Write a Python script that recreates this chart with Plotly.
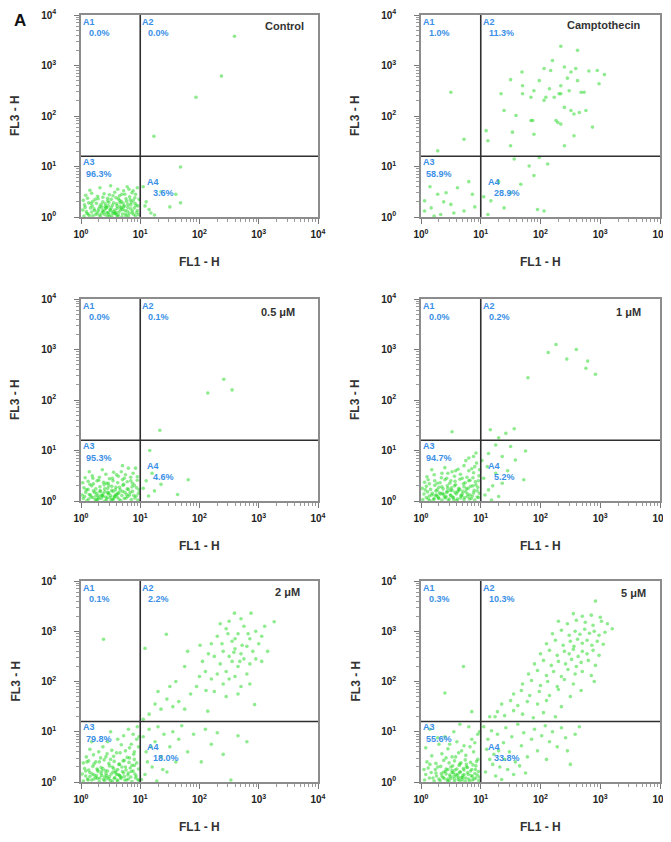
import numpy as np
import plotly.graph_objects as go

# ---------------- data ----------------
# every event is (log10 FL1-H, log10 FL3-H)
ctrl_events = [
    (0.05, 0.02), (0.12, 0.06), (0.20, 0.03), (0.27, 0.08), (0.33, 0.01), (0.40, 0.05), (0.46, 0.09), (0.52, 0.02),
    (0.58, 0.07), (0.63, 0.04), (0.69, 0.00), (0.75, 0.06), (0.80, 0.03), (0.86, 0.08), (0.92, 0.02), (0.97, 0.05),
    (0.03, 0.14), (0.09, 0.11), (0.16, 0.18), (0.23, 0.13), (0.30, 0.16), (0.36, 0.12), (0.43, 0.19), (0.49, 0.15),
    (0.55, 0.11), (0.61, 0.17), (0.67, 0.14), (0.72, 0.20), (0.78, 0.12), (0.84, 0.16), (0.90, 0.18), (0.95, 0.13),
    (0.06, 0.24), (0.13, 0.28), (0.19, 0.22), (0.26, 0.27), (0.34, 0.25), (0.41, 0.21), (0.47, 0.29), (0.53, 0.23),
    (0.60, 0.26), (0.66, 0.28), (0.73, 0.22), (0.79, 0.25), (0.85, 0.29), (0.93, 0.23),
    (0.04, 0.33), (0.11, 0.37), (0.20, 0.31), (0.29, 0.36), (0.37, 0.39), (0.45, 0.32), (0.51, 0.35), (0.59, 0.38),
    (0.68, 0.31), (0.76, 0.36), (0.83, 0.34), (0.91, 0.38),
    (0.08, 0.43), (0.18, 0.47), (0.28, 0.41), (0.39, 0.46), (0.48, 0.44), (0.57, 0.49), (0.65, 0.42), (0.74, 0.45),
    (0.86, 0.48), (0.15, 0.53), (0.32, 0.58), (0.50, 0.62), (0.62, 0.55), (0.78, 0.60), (0.88, 0.52),
    (0.31, 0.04), (0.38, 0.10), (0.44, 0.02), (0.50, 0.13), (0.56, 0.07), (0.62, 0.01), (0.70, 0.15), (0.35, 0.19),
    (0.47, 0.05), (0.59, 0.09), (0.66, 0.20), (0.42, 0.17),
    (0.14, 0.03), (0.18, 0.10), (0.22, 0.16), (0.25, 0.05), (0.29, 0.12), (0.32, 0.21), (0.35, 0.07), (0.39, 0.14),
    (0.41, 0.26), (0.44, 0.09), (0.46, 0.22), (0.48, 0.01), (0.51, 0.18), (0.53, 0.08), (0.55, 0.28), (0.57, 0.14),
    (0.60, 0.04), (0.61, 0.22), (0.64, 0.10), (0.65, 0.33), (0.68, 0.18), (0.70, 0.06), (0.71, 0.27), (0.74, 0.13),
    (0.76, 0.02), (0.77, 0.31), (0.79, 0.19), (0.81, 0.08), (0.82, 0.40), (0.84, 0.24), (0.87, 0.12), (0.88, 0.33),
    (0.89, 0.05), (0.91, 0.27), (0.94, 0.09), (0.96, 0.22), (0.98, 0.35), (0.24, 0.35), (0.37, 0.30), (0.54, 0.42),
    (0.69, 0.45), (0.72, 0.52), (0.92, 0.45), (0.95, 0.58), (0.10, 0.07), (0.07, 0.19), (0.17, 0.27), (0.45, 0.37),
    (0.63, 0.36), (0.81, 0.55),
    (1.23, 1.60), (1.94, 2.37), (2.37, 2.79), (2.59, 3.58), (1.68, 0.99), (1.68, 0.28), (1.50, 0.20), (1.24, 0.04),
    (1.10, 0.30), (1.15, 0.15), (1.35, 0.50), (1.05, 0.60), (1.60, 0.45), (1.18, 0.08), (1.08, 0.22),
]

campto_events = [
    (2.34, 3.38), (2.62, 3.30), (1.69, 2.87), (1.70, 2.60), (1.34, 2.44), (1.50, 2.72), (2.06, 2.94), (2.17, 2.90),
    (2.40, 2.97), (2.51, 2.87), (2.59, 2.94), (2.81, 2.89), (2.95, 2.90), (3.07, 2.82), (1.98, 2.70), (2.15, 2.54),
    (2.34, 2.60), (2.34, 2.44), (2.48, 2.50), (2.62, 2.70), (2.73, 2.47), (1.89, 2.50), (1.84, 2.37), (2.06, 2.31),
    (2.23, 2.37), (2.40, 2.17), (2.51, 2.11), (2.65, 2.07), (2.76, 2.11), (2.26, 1.91), (2.34, 1.84), (1.84, 1.91),
    (1.59, 2.01), (1.39, 2.11), (1.53, 1.68), (1.89, 1.64), (2.40, 1.41), (2.56, 1.61), (2.87, 1.78), (1.50, 1.41),
    (1.12, 1.51), (2.98, 2.64), (2.68, 2.47), (2.56, 2.04), (1.87, 1.91), (2.29, 1.87), (2.09, 2.37), (1.09, 1.71),
    (2.31, 2.44), (1.70, 2.44), (2.20, 3.10), (2.45, 2.75),
    (0.50, 2.47), (0.72, 1.54), (0.28, 1.31),
    (1.56, 1.15), (1.81, 1.01), (1.98, 1.18), (2.12, 1.05), (1.89, 0.82), (1.67, 0.65), (1.50, 0.48), (1.39, 0.18),
    (1.95, 0.15), (2.06, 0.12), (1.17, 0.32), (1.12, 0.05), (1.30, 0.70), (1.05, 0.40),
    (0.28, 0.45), (0.42, 0.48), (0.50, 0.25), (0.17, 0.18), (0.06, 0.12), (0.33, 0.05), (0.61, 0.58), (0.86, 0.45),
    (0.72, 0.12), (0.06, 0.32), (0.15, 0.60), (0.38, 0.30), (0.55, 0.08), (0.90, 0.20), (0.22, 0.02), (0.80, 0.70),
]

d05_events = [
    (0.04, 0.05), (0.10, 0.01), (0.17, 0.08), (0.24, 0.03), (0.30, 0.06), (0.37, 0.09), (0.43, 0.02), (0.49, 0.07),
    (0.55, 0.04), (0.61, 0.08), (0.67, 0.01), (0.73, 0.05), (0.79, 0.09), (0.85, 0.03), (0.91, 0.06), (0.96, 0.02),
    (0.02, 0.12), (0.08, 0.17), (0.14, 0.13), (0.21, 0.20), (0.27, 0.15), (0.34, 0.11), (0.40, 0.18), (0.46, 0.14),
    (0.52, 0.21), (0.58, 0.12), (0.64, 0.16), (0.70, 0.19), (0.77, 0.13), (0.83, 0.17), (0.89, 0.11), (0.97, 0.15),
    (0.05, 0.26), (0.12, 0.23), (0.18, 0.30), (0.25, 0.24), (0.32, 0.28), (0.39, 0.32), (0.45, 0.25), (0.52, 0.29),
    (0.58, 0.22), (0.65, 0.27), (0.71, 0.31), (0.78, 0.24), (0.86, 0.28), (0.94, 0.26),
    (0.03, 0.36), (0.12, 0.39), (0.21, 0.34), (0.30, 0.41), (0.38, 0.37), (0.46, 0.35), (0.54, 0.40), (0.62, 0.36),
    (0.70, 0.42), (0.78, 0.38), (0.87, 0.35), (0.95, 0.41),
    (0.07, 0.46), (0.19, 0.50), (0.31, 0.47), (0.42, 0.53), (0.53, 0.45), (0.63, 0.49), (0.75, 0.52), (0.84, 0.47),
    (0.14, 0.58), (0.36, 0.62), (0.55, 0.57), (0.70, 0.70), (0.80, 0.65),
    (0.28, 0.03), (0.36, 0.11), (0.44, 0.06), (0.51, 0.02), (0.60, 0.13), (0.33, 0.19), (0.47, 0.16), (0.56, 0.08),
    (0.25, 0.10), (0.40, 0.00),
    (0.13, 0.04), (0.16, 0.12), (0.20, 0.07), (0.23, 0.17), (0.26, 0.02), (0.29, 0.10), (0.32, 0.20), (0.34, 0.05),
    (0.37, 0.14), (0.40, 0.24), (0.42, 0.08), (0.45, 0.17), (0.47, 0.30), (0.50, 0.11), (0.53, 0.03), (0.54, 0.19),
    (0.57, 0.09), (0.59, 0.27), (0.62, 0.15), (0.64, 0.04), (0.66, 0.22), (0.69, 0.11), (0.72, 0.33), (0.74, 0.17),
    (0.76, 0.06), (0.80, 0.23), (0.82, 0.12), (0.84, 0.40), (0.87, 0.19), (0.90, 0.31), (0.93, 0.10), (0.95, 0.48),
    (0.98, 0.22), (0.09, 0.22), (0.15, 0.33), (0.27, 0.40), (0.48, 0.44), (0.60, 0.52), (0.68, 0.58), (0.88, 0.55),
    (0.06, 0.09), (0.20, 0.45), (0.43, 0.35), (0.73, 0.45), (0.92, 0.65),
    (2.41, 2.41), (2.55, 2.20), (2.14, 2.14), (1.33, 1.40), (1.16, 1.00), (1.81, 0.42), (1.63, 0.13), (1.24, 0.20),
    (1.35, 0.33), (1.10, 0.40), (1.14, 0.10), (1.05, 0.25), (1.20, 0.55),
]

d1_events = [
    (0.03, 0.03), (0.09, 0.07), (0.15, 0.01), (0.22, 0.05), (0.28, 0.09), (0.35, 0.02), (0.41, 0.06), (0.47, 0.04),
    (0.53, 0.08), (0.60, 0.01), (0.66, 0.06), (0.72, 0.03), (0.78, 0.09), (0.84, 0.05), (0.90, 0.02), (0.96, 0.07),
    (0.05, 0.14), (0.11, 0.18), (0.18, 0.12), (0.25, 0.20), (0.31, 0.16), (0.38, 0.13), (0.44, 0.19), (0.50, 0.11),
    (0.57, 0.17), (0.63, 0.21), (0.69, 0.14), (0.75, 0.18), (0.82, 0.12), (0.88, 0.16), (0.94, 0.20),
    (0.02, 0.25), (0.09, 0.29), (0.16, 0.23), (0.23, 0.31), (0.30, 0.27), (0.37, 0.24), (0.44, 0.30), (0.51, 0.26),
    (0.58, 0.32), (0.65, 0.23), (0.72, 0.28), (0.79, 0.25), (0.87, 0.30), (0.95, 0.27),
    (0.06, 0.37), (0.14, 0.34), (0.23, 0.40), (0.32, 0.36), (0.40, 0.42), (0.48, 0.35), (0.57, 0.39), (0.65, 0.43),
    (0.74, 0.36), (0.82, 0.41), (0.91, 0.38),
    (0.10, 0.48), (0.22, 0.52), (0.34, 0.46), (0.45, 0.55), (0.56, 0.49), (0.66, 0.53), (0.77, 0.47), (0.88, 0.56),
    (0.97, 0.50), (0.18, 0.62), (0.40, 0.66), (0.58, 0.60), (0.72, 0.70), (0.85, 0.64), (0.93, 0.75),
    (0.30, 0.05), (0.42, 0.09), (0.55, 0.03), (0.68, 0.10), (0.36, 0.15), (0.49, 0.21), (0.61, 0.18), (0.26, 0.12),
    (0.80, 0.85), (0.92, 0.95),
    (0.12, 0.04), (0.14, 0.10), (0.19, 0.15), (0.21, 0.03), (0.24, 0.11), (0.27, 0.22), (0.29, 0.06), (0.33, 0.14),
    (0.35, 0.28), (0.39, 0.08), (0.43, 0.17), (0.45, 0.25), (0.46, 0.01), (0.49, 0.12), (0.52, 0.21), (0.54, 0.07),
    (0.56, 0.30), (0.59, 0.14), (0.61, 0.04), (0.63, 0.25), (0.67, 0.11), (0.70, 0.19), (0.71, 0.34), (0.73, 0.07),
    (0.76, 0.24), (0.78, 0.14), (0.80, 0.40), (0.81, 0.04), (0.83, 0.29), (0.86, 0.10), (0.87, 0.46), (0.89, 0.21),
    (0.92, 0.32), (0.94, 0.08), (0.96, 0.40), (0.98, 0.15), (0.07, 0.22), (0.12, 0.42), (0.27, 0.35), (0.43, 0.45),
    (0.52, 0.58), (0.62, 0.63), (0.69, 0.45), (0.80, 0.60), (0.90, 0.68), (0.98, 0.62), (0.35, 0.55), (0.50, 0.40),
    (0.75, 0.80), (0.88, 0.88),
    (2.26, 3.10), (2.13, 2.94), (2.60, 3.00), (2.44, 2.81), (2.79, 2.77), (2.76, 2.63), (2.92, 2.51), (1.79, 2.44),
    (0.52, 1.37), (1.16, 1.41), (1.42, 1.34), (1.56, 1.43), (1.30, 1.25),
    (1.25, 1.11), (1.50, 1.08), (1.75, 0.99), (1.13, 0.94), (1.36, 0.88), (1.58, 0.81), (1.72, 0.42), (1.11, 0.68),
    (1.25, 0.55), (1.30, 0.09), (1.13, 0.22), (1.36, 0.35), (1.07, 0.12), (1.05, 0.45), (1.20, 0.30), (1.45, 0.60),
    (1.02, 0.80), (1.18, 0.02),
]

d2_events = [
    (0.04, 0.02), (0.11, 0.06), (0.18, 0.04), (0.25, 0.09), (0.31, 0.01), (0.38, 0.05), (0.44, 0.08), (0.50, 0.03),
    (0.56, 0.07), (0.62, 0.02), (0.68, 0.09), (0.74, 0.04), (0.80, 0.06), (0.86, 0.01), (0.92, 0.08), (0.98, 0.03),
    (0.02, 0.16), (0.08, 0.12), (0.15, 0.19), (0.22, 0.14), (0.29, 0.21), (0.35, 0.13), (0.42, 0.17), (0.48, 0.11),
    (0.54, 0.20), (0.60, 0.15), (0.66, 0.12), (0.72, 0.18), (0.79, 0.14), (0.85, 0.21), (0.91, 0.16),
    (0.06, 0.27), (0.13, 0.24), (0.20, 0.31), (0.27, 0.26), (0.34, 0.29), (0.41, 0.23), (0.48, 0.32), (0.55, 0.27),
    (0.62, 0.25), (0.69, 0.30), (0.76, 0.24), (0.83, 0.28), (0.90, 0.33), (0.97, 0.26),
    (0.04, 0.38), (0.13, 0.42), (0.22, 0.36), (0.31, 0.40), (0.39, 0.44), (0.47, 0.37), (0.56, 0.41), (0.64, 0.35),
    (0.73, 0.43), (0.81, 0.39), (0.90, 0.45),
    (0.09, 0.50), (0.21, 0.54), (0.33, 0.48), (0.44, 0.56), (0.55, 0.51), (0.66, 0.58), (0.78, 0.49), (0.89, 0.55),
    (0.15, 0.65), (0.37, 0.70), (0.52, 0.63), (0.68, 0.74), (0.82, 0.68), (0.94, 0.85),
    (0.28, 0.07), (0.40, 0.10), (0.53, 0.01), (0.65, 0.13), (0.35, 0.22), (0.58, 0.19), (0.88, 0.95), (0.95, 1.10),
    (0.45, 0.80), (0.72, 0.92),
    (0.12, 0.04), (0.15, 0.11), (0.19, 0.16), (0.22, 0.06), (0.26, 0.13), (0.28, 0.24), (0.32, 0.08), (0.34, 0.17),
    (0.37, 0.27), (0.40, 0.03), (0.43, 0.13), (0.45, 0.22), (0.47, 0.06), (0.51, 0.16), (0.53, 0.30), (0.57, 0.09),
    (0.59, 0.22), (0.61, 0.04), (0.63, 0.15), (0.65, 0.35), (0.67, 0.07), (0.70, 0.21), (0.71, 0.42), (0.73, 0.11),
    (0.75, 0.30), (0.77, 0.04), (0.80, 0.18), (0.82, 0.48), (0.84, 0.10), (0.86, 0.33), (0.88, 0.22), (0.90, 0.60),
    (0.93, 0.12), (0.94, 0.38), (0.96, 0.05), (0.97, 0.70), (0.08, 0.22), (0.10, 0.40), (0.25, 0.40), (0.42, 0.50),
    (0.50, 0.45), (0.60, 0.58), (0.75, 0.62), (0.85, 0.75), (0.62, 0.85), (0.30, 0.60), (0.18, 0.80), (0.50, 1.00),
    (0.80, 1.05), (0.98, 0.90),
    (0.38, 2.84),
    (2.01, 2.72), (3.26, 3.19), (2.87, 3.36), (2.59, 3.36), (1.44, 2.94), (1.08, 2.66), (2.93, 1.54), (2.11, 1.82),
    (2.14, 1.41),
    (2.30, 2.90), (2.45, 3.05), (2.55, 2.80), (2.65, 2.95), (2.75, 3.10), (2.85, 2.85), (2.95, 3.00), (3.05, 2.90),
    (3.10, 3.10), (2.40, 2.60), (2.50, 2.50), (2.60, 2.65), (2.70, 2.55), (2.80, 2.70), (2.90, 2.60), (3.00, 2.75),
    (2.35, 2.35), (2.45, 2.20), (2.55, 2.40), (2.65, 2.30), (2.75, 2.45), (2.85, 2.35), (2.95, 2.45), (2.25, 2.50),
    (2.20, 2.75), (2.15, 2.55), (2.05, 2.40), (2.10, 2.20), (2.20, 2.05), (2.30, 2.15), (2.40, 1.95), (2.50, 2.05),
    (2.60, 2.10), (2.70, 1.90), (2.80, 2.15), (2.00, 2.10), (1.95, 1.90), (1.85, 1.75), (2.25, 1.80), (2.45, 1.70),
    (2.65, 1.75), (2.85, 1.95), (2.70, 3.25), (2.50, 3.20), (2.35, 3.15), (3.15, 2.60), (3.05, 2.40), (2.60, 2.85),
    (2.72, 2.72), (2.82, 2.95), (2.48, 2.95), (2.58, 2.58), (2.68, 2.40), (2.38, 2.75), (1.75, 2.30), (1.60, 2.00),
    (1.80, 2.60),
    (1.05, 1.25), (1.15, 1.35), (1.25, 1.55), (1.35, 1.45), (1.45, 1.65), (1.55, 1.50), (1.65, 1.60), (1.75, 1.45),
    (1.30, 1.80), (1.50, 1.90),
    (1.05, 0.90), (1.10, 0.60), (1.15, 1.05), (1.20, 0.30), (1.25, 0.80), (1.30, 1.10), (1.35, 0.50), (1.40, 0.95),
    (1.45, 0.20), (1.50, 0.70), (1.55, 1.00), (1.60, 0.40), (1.65, 0.85), (1.70, 1.12), (1.80, 0.60), (1.90, 0.95),
    (2.03, 0.40), (2.10, 1.05), (2.20, 0.75), (2.30, 0.98), (2.40, 0.55), (2.53, 0.04), (2.65, 0.92), (2.80, 0.80),
    (1.08, 0.15), (1.12, 0.40), (1.18, 0.70), (1.02, 0.05), (1.28, 0.02), (1.38, 0.25),
]

d5_events = [
    (0.06, 0.04), (0.14, 0.08), (0.22, 0.02), (0.30, 0.06), (0.37, 0.09), (0.44, 0.03), (0.50, 0.07), (0.56, 0.01),
    (0.62, 0.05), (0.68, 0.09), (0.74, 0.02), (0.80, 0.06), (0.86, 0.04), (0.92, 0.08), (0.97, 0.03),
    (0.08, 0.15), (0.17, 0.19), (0.26, 0.12), (0.34, 0.17), (0.41, 0.21), (0.48, 0.14), (0.54, 0.18), (0.60, 0.12),
    (0.66, 0.20), (0.72, 0.15), (0.78, 0.19), (0.84, 0.13), (0.90, 0.17), (0.96, 0.21),
    (0.12, 0.28), (0.24, 0.25), (0.33, 0.31), (0.42, 0.26), (0.50, 0.30), (0.57, 0.24), (0.64, 0.33), (0.71, 0.27),
    (0.78, 0.29), (0.85, 0.25), (0.92, 0.32),
    (0.10, 0.40), (0.25, 0.37), (0.38, 0.43), (0.47, 0.38), (0.56, 0.42), (0.65, 0.36), (0.74, 0.44), (0.83, 0.39),
    (0.93, 0.41),
    (0.18, 0.52), (0.35, 0.56), (0.52, 0.50), (0.63, 0.58), (0.75, 0.53), (0.88, 0.60),
    (0.08, 0.68), (0.30, 0.75), (0.45, 0.66), (0.60, 0.80), (0.72, 0.72), (0.85, 0.85), (0.95, 0.95), (0.55, 1.00),
    (0.80, 1.10), (0.40, 0.90),
    (0.45, 0.06), (0.55, 0.11), (0.65, 0.03), (0.52, 0.23), (0.70, 0.09), (0.62, 0.16), (0.38, 0.20), (0.76, 0.35),
    (0.32, 0.03), (0.35, 0.12), (0.39, 0.07), (0.42, 0.16), (0.45, 0.25), (0.47, 0.02), (0.49, 0.11), (0.52, 0.19),
    (0.53, 0.32), (0.56, 0.06), (0.58, 0.15), (0.60, 0.26), (0.63, 0.09), (0.65, 0.20), (0.67, 0.38), (0.69, 0.04),
    (0.70, 0.13), (0.72, 0.24), (0.75, 0.08), (0.76, 0.30), (0.79, 0.15), (0.81, 0.02), (0.83, 0.22), (0.86, 0.11),
    (0.87, 0.34), (0.89, 0.06), (0.91, 0.25), (0.94, 0.14), (0.95, 0.45), (0.98, 0.10), (0.20, 0.08), (0.25, 0.18),
    (0.28, 0.30), (0.15, 0.35), (0.05, 0.25), (0.42, 0.48), (0.58, 0.50), (0.68, 0.62), (0.82, 0.70), (0.90, 0.78),
    (0.28, 0.88), (0.15, 1.05), (0.65, 1.15), (0.48, 0.75), (0.98, 1.00),
    (0.71, 2.30), (0.40, 1.77), (0.85, 1.40),
    (2.55, 3.35), (2.70, 3.30), (2.85, 3.32), (3.00, 3.28), (2.92, 3.60),
    (2.30, 3.20), (2.45, 3.15), (2.60, 3.22), (2.75, 3.18), (2.88, 3.12), (3.02, 3.20), (3.12, 3.15), (3.20, 3.05),
    (2.20, 2.95), (2.35, 3.02), (2.48, 2.92), (2.58, 3.00), (2.66, 2.94), (2.74, 3.04), (2.82, 2.96), (2.90, 3.00),
    (2.98, 2.92), (3.08, 2.98),
    (2.10, 2.75), (2.25, 2.82), (2.38, 2.72), (2.50, 2.80), (2.56, 2.70), (2.62, 2.84), (2.70, 2.76), (2.78, 2.82),
    (2.86, 2.72), (2.95, 2.80), (3.05, 2.74),
    (2.00, 2.55), (2.15, 2.62), (2.28, 2.52), (2.40, 2.60), (2.48, 2.55), (2.55, 2.64), (2.63, 2.50), (2.70, 2.60),
    (2.78, 2.55), (2.88, 2.62), (2.98, 2.52),
    (1.90, 2.35), (2.05, 2.42), (2.18, 2.32), (2.30, 2.40), (2.42, 2.35), (2.52, 2.44), (2.60, 2.30), (2.68, 2.38),
    (2.80, 2.42), (2.92, 2.32),
    (1.80, 2.15), (1.95, 2.22), (2.10, 2.12), (2.22, 2.20), (2.35, 2.10), (2.46, 2.24), (2.58, 2.15), (2.70, 2.20),
    (2.85, 2.12),
    (1.70, 1.95), (1.85, 2.02), (2.00, 1.92), (2.12, 2.00), (2.28, 1.90), (2.40, 2.04), (2.55, 1.95), (2.68, 1.82),
    (2.90, 2.00),
    (1.55, 1.75), (1.68, 1.82), (1.82, 1.72), (1.98, 1.80), (2.15, 1.72), (2.30, 1.84), (2.50, 1.70),
    (1.35, 1.55), (1.50, 1.62), (1.62, 1.52), (1.78, 1.60), (1.95, 1.55), (2.10, 1.62), (2.35, 1.50),
    (1.15, 1.30), (1.28, 1.40), (1.40, 1.32), (1.55, 1.42), (1.70, 1.35), (1.88, 1.28), (2.05, 1.38), (2.25, 1.30),
    (1.24, 1.30),
    (1.05, 1.10), (1.12, 0.85), (1.18, 1.02), (1.22, 0.55), (1.28, 0.95), (1.32, 0.30), (1.38, 0.78), (1.42, 1.08),
    (1.48, 0.60), (1.52, 0.90), (1.58, 0.40), (1.62, 1.15), (1.68, 0.72), (1.72, 0.98), (1.78, 0.50), (1.85, 0.85),
    (1.90, 1.05), (1.95, 0.62), (2.02, 0.92), (2.08, 1.12), (2.15, 0.80), (2.20, 1.00), (2.28, 0.70), (2.35, 1.08),
    (2.42, 0.88), (2.50, 0.35), (2.58, 0.95), (2.65, 1.10), (1.08, 0.20), (1.15, 0.45), (1.25, 0.12), (1.35, 0.05),
    (1.45, 0.25), (1.55, 0.15), (1.65, 0.32), (1.75, 0.18), (1.10, 0.65), (1.20, 0.35), (1.30, 0.62), (1.40, 0.45),
    (2.10, 0.45), (2.45, 0.62),
]

panel_titles = ["Control", "Camptothecin", "0.5 μM", "1 μM", "2 μM", "5 μM"]
quadrant_names = ["A1", "A2", "A3", "A4"]
ctrl_pct = ["0.0%", "0.0%", "96.3%", "3.6%"]
campto_pct = ["1.0%", "11.3%", "58.9%", "28.9%"]
d05_pct = ["0.0%", "0.1%", "95.3%", "4.6%"]
d1_pct = ["0.0%", "0.2%", "94.7%", "5.2%"]
d2_pct = ["0.1%", "2.2%", "79.8%", "18.0%"]
d5_pct = ["0.3%", "10.3%", "55.6%", "33.8%"]

gate_fl1 = 10     # vertical quadrant gate (FL1-H)
gate_fl3 = 16     # horizontal quadrant gate (FL3-H)

tick_values = [1, 10, 100, 1000, 10000]
tick_labels = ["<b>10<sup>0</sup></b>", "<b>10<sup>1</sup></b>", "<b>10<sup>2</sup></b>",
               "<b>10<sup>3</sup></b>", "<b>10<sup>4</sup></b>"]
x_title = "FL1 - H"
y_title = "FL3 - H"
figure_letter = "A"

panels = [
    (ctrl_events, ctrl_pct), (campto_events, campto_pct),
    (d05_events, d05_pct), (d1_events, d1_pct),
    (d2_events, d2_pct), (d5_events, d5_pct),
]

# ---------------- layout / style ----------------
PAGE_W, PAGE_H = 671, 842
OFF = 8                      # default page margin around the plot div
W, H = PAGE_W - OFF, PAGE_H - OFF

def fx(px):                  # page pixel -> paper x
    return (px - OFF) / W

def fy(py):                  # page pixel -> paper y
    return 1 - (py - OFF) / H

col_px = [(81, 318), (421, 660)]
row_px = [(15, 217), (299, 501), (581, 782)]
ytitle_px = [15, 355]
title_shift = [(-12, -11), (-17, -10), (-21, -13), (-17, -13), (-16, -11), (-12, -12)]

FONT = "Liberation Sans, Arial, sans-serif"
DOT = "rgba(30,215,30,0.5)"
BLUE = "#3a8fe6"
GATE = "#2f2f2f"
FRAME = "#8c8c8c"

minor_vals = [m * 10 ** k for k in range(4) for m in range(2, 10)]

fig = go.Figure()
annotations = []

for i, (events, pcts) in enumerate(panels):
    r, c = divmod(i, 2)
    n = "" if i == 0 else str(i + 1)
    xa, ya = "x" + n, "y" + n
    x0, x1 = col_px[c]
    y0, y1 = row_px[r]

    fl1 = 10 ** np.array([e[0] for e in events])
    fl3 = 10 ** np.array([e[1] for e in events])

    fig.add_trace(go.Scatter(x=fl1, y=fl3, mode="markers", xaxis=xa, yaxis=ya,
                             marker=dict(size=3.6, color=DOT, line=dict(width=0)),
                             hoverinfo="x+y", showlegend=False))
    fig.add_trace(go.Scatter(x=[gate_fl1, gate_fl1], y=[tick_values[0], tick_values[-1]],
                             mode="lines", xaxis=xa, yaxis=ya,
                             line=dict(color=GATE, width=1.6), hoverinfo="skip", showlegend=False))
    fig.add_trace(go.Scatter(x=[tick_values[0], tick_values[-1]], y=[gate_fl3, gate_fl3],
                             mode="lines", xaxis=xa, yaxis=ya,
                             line=dict(color=GATE, width=1.6), hoverinfo="skip", showlegend=False))

    common = dict(type="log", range=[0, 4], tickmode="array", tickvals=tick_values, ticktext=tick_labels,
                  ticks="outside", ticklen=5, tickwidth=1, tickcolor="#777", automargin=False,
                  showline=True, linecolor=FRAME, linewidth=1.6, mirror=True,
                  showgrid=False, zeroline=False,
                  tickfont=dict(family=FONT, size=10, color="#222"),
                  minor=dict(tickmode="array", tickvals=minor_vals, ticks="outside",
                             ticklen=3, tickwidth=1, tickcolor="#9a9a9a", showgrid=False))
    fig.update_layout(**{
        "xaxis" + n: dict(domain=[fx(x0), fx(x1)], anchor=ya, ticklabelstandoff=2, **common),
        "yaxis" + n: dict(domain=[fy(y1), fy(y0)], anchor=xa, ticklabelstandoff=16, **common),
    })

    xd, yd = xa + " domain", ya + " domain"
    vfrac = np.log10(gate_fl1) / 4
    hfrac = np.log10(gate_fl3) / 4
    qfont = dict(family=FONT, size=9, color=BLUE)

    def qa(x, y, xs, ys, text):
        annotations.append(dict(xref=xd, yref=yd, x=x, y=y, xshift=xs, yshift=ys, text="<b>" + text + "</b>",
                                showarrow=False, xanchor="left", yanchor="middle", font=qfont))

    qa(0, 1, 0, -7, quadrant_names[0]); qa(0, 1, 6, -18, pcts[0])
    qa(vfrac, 1, 0, -7, quadrant_names[1]); qa(vfrac, 1, 6, -18, pcts[1])
    qa(0, hfrac, 0, -6, quadrant_names[2]); qa(0, hfrac, 3, -18, pcts[2])
    qa(vfrac, hfrac, 5, -26, quadrant_names[3]); qa(vfrac, hfrac, 11, -37, pcts[3])

    ts = title_shift[i]
    annotations.append(dict(xref=xd, yref=yd, x=1, y=1, xshift=ts[0], yshift=ts[1],
                            text="<b>" + panel_titles[i] + "</b>", showarrow=False,
                            xanchor="right", yanchor="middle",
                            font=dict(family=FONT, size=11, color="#333")))

    # axis titles
    annotations.append(dict(xref="paper", yref="paper", x=fx((x0 + x1) / 2), y=fy(y1 + 45),
                            text="<b>" + x_title + "</b>", showarrow=False, xanchor="center", yanchor="middle",
                            font=dict(family=FONT, size=12, color="#333")))
    annotations.append(dict(xref="paper", yref="paper", x=fx(ytitle_px[c]), y=fy((y0 + y1) / 2),
                            text="<b>" + y_title + "</b>", showarrow=False, textangle=-90,
                            xanchor="center", yanchor="middle",
                            font=dict(family=FONT, size=12, color="#333")))

annotations.append(dict(xref="paper", yref="paper", x=fx(20), y=fy(20), text="<b>" + figure_letter + "</b>",
                        showarrow=False, xanchor="center", yanchor="middle",
                        font=dict(family=FONT, size=17, color="#111")))

fig.update_layout(width=W, height=H, margin=dict(l=0, r=0, t=0, b=0),
                  paper_bgcolor="white", plot_bgcolor="white", showlegend=False,
                  annotations=annotations)

fig.write_html("out.html")
